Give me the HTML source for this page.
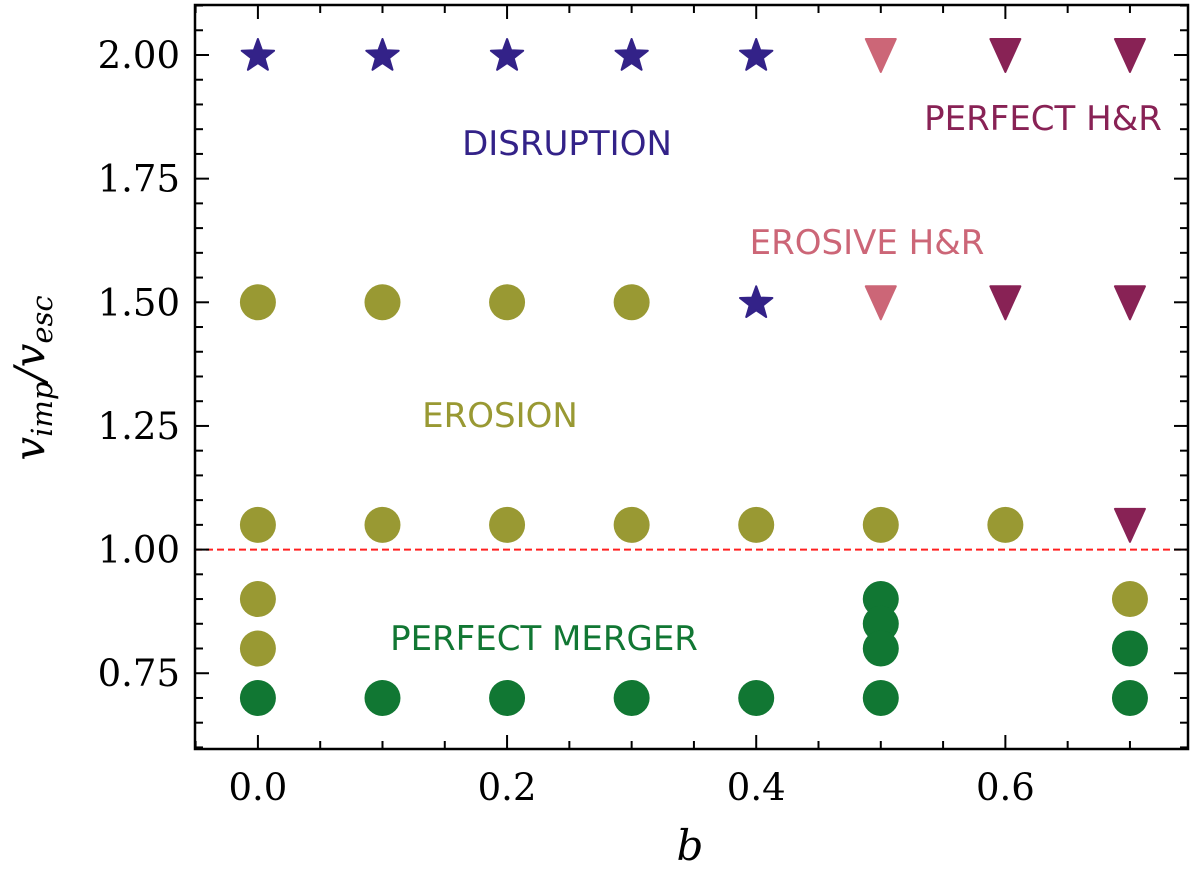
<!DOCTYPE html>
<html><head><meta charset="utf-8"><style>body{margin:0;background:#fff}svg{display:block}</style></head>
<body>
<svg id="c" width="1200" height="873" xmlns="http://www.w3.org/2000/svg"></svg>
<script>
const bVals   = [0,0,0,0,0,0, 0.1,0.1,0.1,0.1, 0.2,0.2,0.2,0.2, 0.3,0.3,0.3,0.3, 0.4,0.4,0.4,0.4, 0.5,0.5,0.5,0.5,0.5,0.5,0.5, 0.6,0.6,0.6, 0.7,0.7,0.7,0.7,0.7,0.7];
const vVals   = [2.0,1.5,1.05,0.9,0.8,0.7, 2.0,1.5,1.05,0.7, 2.0,1.5,1.05,0.7, 2.0,1.5,1.05,0.7, 2.0,1.5,1.05,0.7, 2.0,1.5,1.05,0.9,0.85,0.8,0.7, 2.0,1.5,1.05, 2.0,1.5,1.05,0.9,0.8,0.7];
const outcome = ["D","E","E","E","E","M", "D","E","E","M", "D","E","E","M", "D","E","E","M", "D","D","E","M", "EH","EH","E","M","M","M","M", "PH","PH","E", "PH","PH","PH","E","M","M"];
const xTicks = [0.0,0.2,0.4,0.6];
const xTickLabels = ["0.0","0.2","0.4","0.6"];
const yTicks = [0.75,1.0,1.25,1.5,1.75,2.0];
const yTickLabels = ["0.75","1.00","1.25","1.50","1.75","2.00"];

const L=195,R=1188,T=5,B=749;
const x0=-0.0505,x1=0.7466,y0=0.5968,y1=2.1011;
const X=v=>L+(v-x0)/(x1-x0)*(R-L);
const Y=v=>B-(v-y0)/(y1-y0)*(B-T);
const col={D:"#332288",E:"#999933",M:"#117733",EH:"#CC6677",PH:"#882255"};
const svg=document.getElementById('c');
const NS="http://www.w3.org/2000/svg";
function mk(t,a,txt){const e=document.createElementNS(NS,t);for(const k in a)e.setAttribute(k,a[k]);if(txt!==undefined)e.textContent=txt;svg.appendChild(e);return e;}

let e=mk('line',{x1:L,x2:R,y1:Y(1.0),y2:Y(1.0),stroke:"#ff2020","stroke-width":2,"stroke-dasharray":"7,4"});



for(let i=0;i<bVals.length;i++){
  const cx=X(bVals[i]),cy=Y(vVals[i]),o=outcome[i],c=col[o];
  let m;
  if(o==="D"){
    let p=[];for(let k=0;k<10;k++){const r=k%2?7:17;const a=-Math.PI/2+k*Math.PI/5;p.push((cx+r*Math.cos(a)).toFixed(1)+","+(cy+1+r*Math.sin(a)).toFixed(1));}
    m=mk('polygon',{points:p.join(" "),fill:c,stroke:c,"stroke-width":2,"stroke-linejoin":"round"});
  } else if(o==="EH"||o==="PH"){
    m=mk('polygon',{points:`${cx-15},${cy-16} ${cx+15},${cy-16} ${cx},${cy+17}`,fill:c,stroke:c,"stroke-width":2,"stroke-linejoin":"round"});
  } else {
    m=mk('circle',{cx:cx,cy:cy,r:18,fill:c});
  }
  
  
}

e=mk('rect',{x:L,y:T,width:R-L,height:B-T,fill:"none",stroke:"#000","stroke-width":2.5});



for(let k=-1;k<=15;k++){const v=k*0.05;if(v<x0||v>x1)continue;const xx=X(v);const maj=Math.abs(v*5-Math.round(v*5))<1e-6;const len=maj?14:8;
  mk('line',{x1:xx,x2:xx,y1:B,y2:B-len,stroke:"#000","stroke-width":2});mk('line',{x1:xx,x2:xx,y1:T,y2:T+len,stroke:"#000","stroke-width":2});}
for(let k=12;k<=42;k++){const v=k*0.05;if(v<y0||v>y1)continue;const yy=Y(v);const maj=(k%5===0);const len=maj?14:8;
  mk('line',{x1:L,x2:L+len,y1:yy,y2:yy,stroke:"#000","stroke-width":2});mk('line',{x1:R,x2:R-len,y1:yy,y2:yy,stroke:"#000","stroke-width":2});}

const ff='"DejaVu Serif","Liberation Serif",serif';
xTicks.forEach((v,i)=>{const t=mk('text',{x:X(v),y:800,"text-anchor":"middle","font-family":ff,"font-size":37},xTickLabels[i]);
  
  });
yTicks.forEach((v,i)=>{const t=mk('text',{x:180,y:Y(v)+13,"text-anchor":"end","font-family":ff,"font-size":37},yTickLabels[i]);
  
  });

e=mk('text',{x:690,y:860,"text-anchor":"middle","font-family":ff,"font-size":42,"font-style":"italic"},"b");


e=mk('text',{x:0,y:0,"text-anchor":"middle","font-family":ff,"font-size":42,"font-style":"italic",transform:"translate(44,378) rotate(-90)"});
e.innerHTML='v<tspan font-size="29" dy="8">imp</tspan><tspan dy="-8">/v</tspan><tspan font-size="29" dy="8">esc</tspan>';



const sf='"DejaVu Sans","Liberation Sans",sans-serif';
[["DISRUPTION",567,155,"D","label-disruption"],["PERFECT H&R",1043,130,"PH","label-perfect-hit-and-run"],["EROSIVE H&R",867,254,"EH","label-erosive-hit-and-run"],["EROSION",500,427,"E","label-erosion"],["PERFECT MERGER",544,650,"M","label-perfect-merger"]].forEach(a=>{
  const t=mk('text',{x:a[1],y:a[2],"text-anchor":"middle","font-family":sf,"font-size":34,fill:col[a[3]]},a[0]);
  
  
});
</script>
</body></html>
